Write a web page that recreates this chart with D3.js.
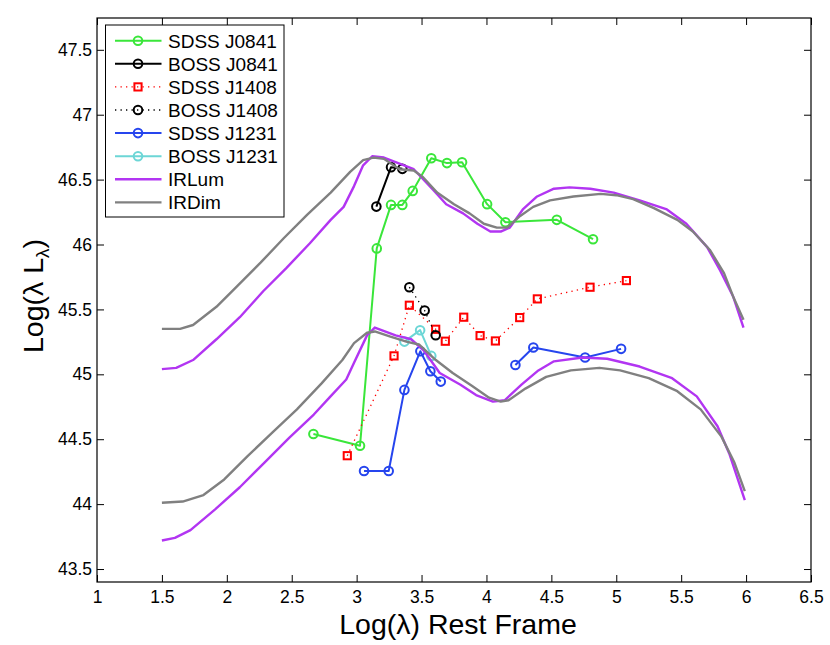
<!DOCTYPE html>
<html><head><meta charset="utf-8">
<script src="https://cdn.jsdelivr.net/npm/d3@7"></script>
<style>
body{margin:0;background:#fff}
svg{display:block}
text{font-family:"Liberation Sans",Arial,Helvetica,sans-serif;fill:#000}
</style>
</head><body>
<svg id="chart" width="830" height="645"></svg>
<script>
// ---------- data ----------
const xTickValues = [1, 1.5, 2, 2.5, 3, 3.5, 4, 4.5, 5, 5.5, 6, 6.5];
const yTickValues = [43.5, 44, 44.5, 45, 45.5, 46, 46.5, 47, 47.5];
const xDomain = [1, 6.5];
const yDomain = [43.4, 47.745];

const seriesNames = ["SDSS J0841","BOSS J0841","SDSS J1408","BOSS J1408","SDSS J1231","BOSS J1231","IRLum","IRDim"];

const sdssJ0841 = [[2.667,44.54],[3.026,44.45],[3.155,45.97],[3.265,46.305],[3.352,46.305],[3.432,46.413],[3.575,46.665],[3.696,46.627],[3.812,46.634],[4.005,46.311],[4.146,46.172],[4.542,46.19],[4.821,46.041]];
const bossJ0841 = [[3.152,46.292],[3.265,46.596],[3.352,46.583]];
const sdssJ1408 = [[2.928,44.373],[3.288,45.142],[3.406,45.532],[3.609,45.347],[3.683,45.255],[3.825,45.44],[3.951,45.298],[4.069,45.257],[4.256,45.437],[4.392,45.581],[4.798,45.671],[5.078,45.722]];
const bossJ1408 = [[3.406,45.671],[3.524,45.491],[3.609,45.301]];
const sdssJ1231 = [[3.057,44.255],[3.247,44.255],[3.368,44.88],[3.491,45.178],[3.568,45.024],[3.648,44.944],null,[4.223,45.072],[4.361,45.206],[4.76,45.129],[5.037,45.196]];
const bossJ1231 = [[3.368,45.252],[3.489,45.34],[3.575,45.142]];

const irLumUpper = [[1.5,45.04],[1.61,45.05],[1.74,45.11],[1.92,45.27],[2.10,45.44],[2.28,45.64],[2.46,45.82],[2.64,46.01],[2.80,46.19],[2.90,46.29],[2.98,46.45],[3.05,46.61],[3.12,46.68],[3.21,46.67],[3.31,46.63],[3.44,46.58],[3.59,46.42],[3.69,46.31],[3.82,46.24],[3.93,46.16],[4.03,46.10],[4.11,46.10],[4.18,46.13],[4.28,46.27],[4.39,46.37],[4.52,46.43],[4.64,46.44],[4.80,46.43],[4.98,46.40],[5.18,46.34],[5.39,46.27],[5.54,46.16],[5.70,45.98],[5.80,45.80],[5.90,45.60],[5.98,45.36]];
const irDimUpper = [[1.5,45.35],[1.64,45.35],[1.74,45.38],[1.92,45.52],[2.08,45.68],[2.26,45.86],[2.44,46.05],[2.62,46.23],[2.80,46.40],[2.95,46.56],[3.05,46.65],[3.13,46.67],[3.21,46.66],[3.33,46.58],[3.44,46.57],[3.51,46.52],[3.62,46.40],[3.75,46.31],[3.87,46.24],[3.98,46.16],[4.08,46.13],[4.16,46.13],[4.26,46.22],[4.36,46.29],[4.49,46.34],[4.67,46.37],[4.88,46.39],[5.00,46.38],[5.13,46.35],[5.29,46.28],[5.47,46.19],[5.59,46.10],[5.72,45.96],[5.83,45.78],[5.90,45.60],[5.98,45.42]];
const irLumLower = [[1.5,43.72],[1.60,43.74],[1.72,43.80],[1.91,43.96],[2.10,44.13],[2.29,44.32],[2.48,44.51],[2.67,44.69],[2.79,44.82],[2.92,44.96],[2.98,45.09],[3.08,45.30],[3.14,45.36],[3.30,45.30],[3.42,45.27],[3.52,45.18],[3.64,45.01],[3.80,44.92],[3.92,44.84],[4.05,44.79],[4.14,44.80],[4.27,44.92],[4.40,45.03],[4.52,45.10],[4.74,45.13],[4.93,45.12],[5.18,45.06],[5.43,44.97],[5.62,44.83],[5.78,44.60],[5.87,44.39],[5.99,44.03]];
const irDimLower = [[1.5,44.01],[1.66,44.02],[1.82,44.07],[1.98,44.19],[2.16,44.37],[2.35,44.55],[2.54,44.73],[2.73,44.93],[2.89,45.11],[2.98,45.24],[3.08,45.32],[3.14,45.33],[3.26,45.29],[3.39,45.25],[3.48,45.23],[3.61,45.11],[3.74,45.01],[3.89,44.91],[4.02,44.82],[4.11,44.79],[4.17,44.80],[4.30,44.89],[4.46,44.98],[4.65,45.03],[4.87,45.05],[5.03,45.03],[5.25,44.97],[5.47,44.87],[5.65,44.73],[5.81,44.52],[5.91,44.32],[5.99,44.10]];

// ---------- layout ----------
const M = {left:97, right:811, top:18, bottom:582};
const svg = d3.select("#chart");
const x = d3.scaleLinear().domain(xDomain).range([M.left, M.right]);
const y = d3.scaleLinear().domain(yDomain).range([M.bottom, M.top]);

const fmt = d => String(d);
const TICK = 7;

// axes (ticks inward)
svg.append("g").attr("transform",`translate(0,${M.bottom})`)
  .call(d3.axisBottom(x).tickValues(xTickValues).tickFormat(fmt).tickSizeInner(-TICK).tickSizeOuter(0).tickPadding(9))
  .call(g=>{g.select(".domain").remove(); g.selectAll("text").attr("font-size",17.5).attr("font-family",null);});
svg.append("g").attr("transform",`translate(0,${M.top})`)
  .call(d3.axisTop(x).tickValues(xTickValues).tickFormat("").tickSizeInner(-TICK).tickSizeOuter(0))
  .call(g=>g.select(".domain").remove());
svg.append("g").attr("transform",`translate(${M.left},0)`)
  .call(d3.axisLeft(y).tickValues(yTickValues).tickFormat(fmt).tickSizeInner(-TICK).tickSizeOuter(0).tickPadding(5))
  .call(g=>{g.select(".domain").remove(); g.selectAll("text").attr("font-size",17.5).attr("font-family",null);});
svg.append("g").attr("transform",`translate(${M.right},0)`)
  .call(d3.axisRight(y).tickValues(yTickValues).tickFormat("").tickSizeInner(-TICK).tickSizeOuter(0))
  .call(g=>g.select(".domain").remove());
svg.selectAll(".tick line").attr("stroke","#000").attr("stroke-width",1);

// clip
svg.append("clipPath").attr("id","clip").append("rect")
  .attr("x",M.left).attr("y",M.top).attr("width",M.right-M.left).attr("height",M.bottom-M.top);
const plot = svg.append("g").attr("clip-path","url(#clip)");

const line = d3.line().defined(d=>d!==null).x(d=>x(d[0])).y(d=>y(d[1]));

const styles = {
  "SDSS J0841": {color:"#3ae63a", width:2, dash:null, marker:"circle"},
  "BOSS J0841": {color:"#000000", width:2, dash:null, marker:"circle"},
  "SDSS J1408": {color:"#ff0000", width:1.3, dash:"1.3,4.2", marker:"square"},
  "BOSS J1408": {color:"#000000", width:1.3, dash:"1.3,4.2", marker:"circle"},
  "SDSS J1231": {color:"#2645ee", width:2, dash:null, marker:"circle"},
  "BOSS J1231": {color:"#6cd6d6", width:2, dash:null, marker:"circle"},
  "IRLum": {color:"#b235f2", width:2.4, dash:null, marker:null},
  "IRDim": {color:"#808080", width:2.4, dash:null, marker:null}
};
const seriesData = {
  "SDSS J0841":[sdssJ0841], "BOSS J0841":[bossJ0841], "SDSS J1408":[sdssJ1408],
  "BOSS J1408":[bossJ1408], "SDSS J1231":[sdssJ1231], "BOSS J1231":[bossJ1231],
  "IRLum":[irLumUpper, irLumLower], "IRDim":[irDimUpper, irDimLower]
};

function drawMarker(g, cx, cy, st){
  if(st.marker==="circle"){
    g.append("circle").attr("cx",cx).attr("cy",cy).attr("r",4.3)
      .attr("fill","none").attr("stroke",st.color).attr("stroke-width",2);
  } else if(st.marker==="square"){
    g.append("rect").attr("x",cx-3.6).attr("y",cy-3.6).attr("width",7.2).attr("height",7.2)
      .attr("fill","none").attr("stroke",st.color).attr("stroke-width",2);
  }
}

seriesNames.forEach(name=>{
  const st = styles[name];
  seriesData[name].forEach(arr=>{
    plot.append("path").datum(arr).attr("d",line)
      .attr("fill","none").attr("stroke",st.color).attr("stroke-width",st.width)
      .attr("stroke-dasharray",st.dash).attr("stroke-linejoin","round");
    if(st.marker){
      const mg = plot.append("g");
      arr.filter(d=>d!==null).forEach(d=>drawMarker(mg, x(d[0]), y(d[1]), st));
    }
  });
});

// frame
svg.append("rect").attr("x",M.left).attr("y",M.top).attr("width",M.right-M.left).attr("height",M.bottom-M.top)
  .attr("fill","none").attr("stroke","#000").attr("stroke-width",1.2);

// legend
const L = {x:105.5, y:25, w:178.5, h:192, row:23.1, first:15.7};
const lg = svg.append("g");
lg.append("rect").attr("x",L.x).attr("y",L.y).attr("width",L.w).attr("height",L.h)
  .attr("fill","#fff").attr("stroke","#000").attr("stroke-width",1);
seriesNames.forEach((name,i)=>{
  const st = styles[name];
  const cy = L.y + L.first + i*L.row;
  lg.append("line").attr("x1",L.x+9.5).attr("x2",L.x+56).attr("y1",cy).attr("y2",cy)
    .attr("stroke",st.color).attr("stroke-width",st.width).attr("stroke-dasharray",st.dash);
  if(st.marker) drawMarker(lg, L.x+32.5, cy, st);
  lg.append("text").attr("x",L.x+62.5).attr("y",cy).attr("dy","0.36em")
    .attr("font-size",19).text(name);
});

// axis titles
svg.append("text").attr("x",458).attr("y",634).attr("text-anchor","middle")
  .attr("font-size",28.5).text("Log(λ) Rest Frame");
const yl = svg.append("text").attr("transform",`translate(43,296) rotate(-90)`)
  .attr("text-anchor","middle").attr("font-size",28.5);
yl.append("tspan").text("Log(λ L");
yl.append("tspan").attr("font-size",19).attr("dy",6).text("λ");
yl.append("tspan").attr("dy",-6).text(")");
</script>
</body></html>
